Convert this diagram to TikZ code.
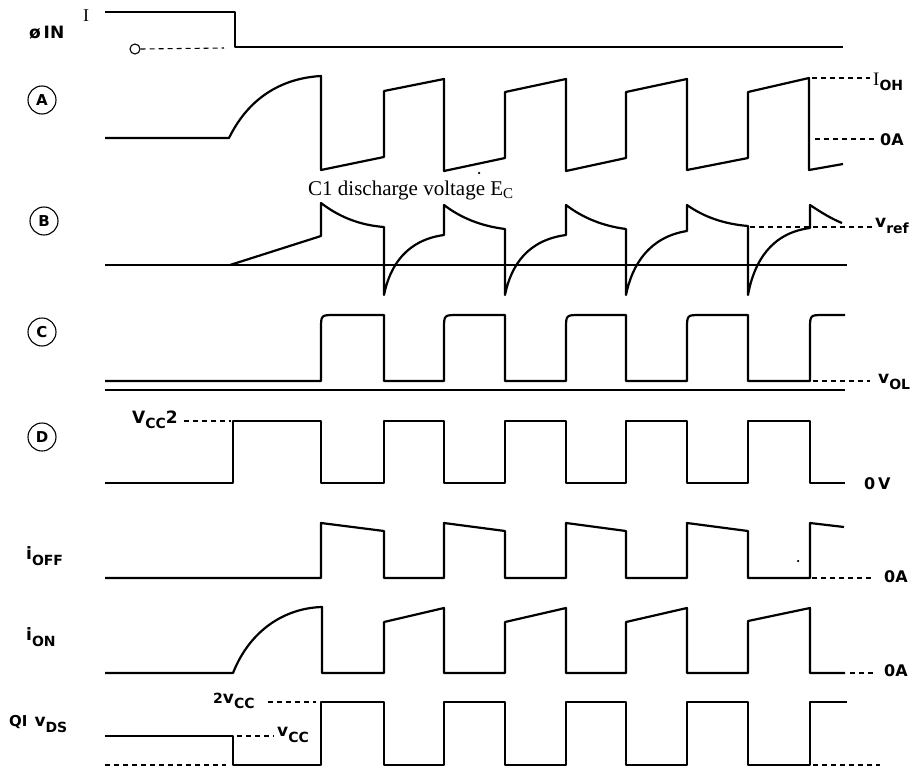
\documentclass[tikz,border=0pt]{standalone}
\usepackage{fontspec}
\setmainfont{Liberation Serif}
\newfontfamily\labfont{DejaVu Sans}
\newcommand{\lowr}[1]{\raisebox{-0.38em}{#1}}
\newcommand{\bigsz}{\fontsize{17}{17}\selectfont}
\newcommand{\subsz}{\fontsize{14}{14}\selectfont}
\begin{document}
\begin{tikzpicture}[x=1pt,y=-1pt,
  wave/.style={line width=2.2pt, line join=round},
  thinbase/.style={line width=1.4pt},
  dsh/.style={line width=1.1pt, dash pattern=on 5pt off 4pt},
  circlab/.style={circle, draw, line width=1.1pt, minimum size=28pt, inner sep=0pt, font=\labfont\bfseries\fontsize{15}{15}\selectfont},
  lbl/.style={font=\labfont\bfseries\fontsize{16}{16}\selectfont, inner sep=0pt},
  biglbl/.style={font=\labfont\bfseries\fontsize{17}{17}\selectfont, inner sep=0pt},
  speck/.style={fill=black, circle, inner sep=0pt, minimum size=2.5pt}]
\useasboundingbox (0,0) rectangle (915,768);

% ---- Phi IN ----
\node[biglbl, anchor=west] (phin) at (29,33) {ø\,IN};
\node[font=\fontsize{18}{18}\selectfont, inner sep=0pt] (ihigh) at (86,16) {I};
\draw[wave] (105,12) -- (235,12) -- (235,47) -- (843,47);
\node[circle, draw, line width=1.1pt, minimum size=10pt, inner sep=0pt] (zc) at (135,49) {};
\coordinate (zend) at (224,48);
\draw[dsh] (zc.east) -- (zend);

% ---- A ----
\node[circlab] (ca) at (42,100) {A};
\draw[wave] (105,138) -- (229,138) .. controls (250,95) and (285,78) .. (321,76)
  -- (321,170) -- (384,157) -- (384,91) -- (444,79) -- (444,171) -- (505,158)
  -- (505,92) -- (566,79) -- (566,171) -- (626,158) -- (626,92) -- (687,79)
  -- (687,170) -- (748,158) -- (748,92) -- (809,78) -- (809,170) -- (843,164);
\coordinate (ioh1) at (812,78); \coordinate (ioh2) at (870,78);
\draw[dsh] (ioh1) -- (ioh2);
\node[anchor=west, inner sep=0pt] (ioh) at (873,82) {\fontsize{19}{19}\selectfont I\labfont\bfseries\subsz\lowr{OH}};
\coordinate (za1) at (815,139); \coordinate (za2) at (877,139);
\draw[dsh] (za1) -- (za2);
\node[lbl, anchor=west] (zaA) at (880,140) {0A};

% ---- C1 text ----
\node[font=\fontsize{21}{21}\selectfont, inner sep=0pt, anchor=base west] (ctext) at (308,195) {C1 discharge voltage E\raisebox{-3pt}{\fontsize{15}{15}\selectfont C}};
\node[speck] (dot1) at (479,173) {};

% ---- B ----
\node[circlab] (cb) at (44,221) {B};
\draw[thinbase] (105,265) -- (847,265);
\draw[wave] (230,265) -- (321,236) -- (321,203)
  .. controls (338,216) and (358,225) .. (384,227) -- (384,295)
  .. controls (390,265) and (407,240) .. (444,235) -- (444,205)
  .. controls (461,218) and (481,226) .. (505,229) -- (505,295)
  .. controls (511,265) and (528,240) .. (566,235) -- (566,205)
  .. controls (583,218) and (603,226) .. (626,229) -- (626,295)
  .. controls (632,265) and (649,237) .. (687,231) -- (687,205)
  .. controls (704,217) and (724,224) .. (748,226) -- (748,295)
  .. controls (754,262) and (771,233) .. (810,228) -- (810,205)
  .. controls (822,213) and (832,219) .. (842,223);
\coordinate (vr1) at (750,227); \coordinate (vr2) at (872,227);
\draw[dsh] (vr1) -- (vr2);
\node[anchor=west, inner sep=0pt] (vref) at (875,226) {\labfont\bfseries\bigsz v\subsz\lowr{ref}};

% ---- C ----
\node[circlab] (cc) at (42,332) {C};
\draw[wave] (105,381) -- (321,381) -- (321,329) .. controls (321,315) .. (335,315)
  -- (384,315) -- (384,381) -- (444,381) -- (444,329) .. controls (444,315) .. (458,315)
  -- (505,315) -- (505,381) -- (566,381) -- (566,329) .. controls (566,315) .. (580,315)
  -- (626,315) -- (626,381) -- (687,381) -- (687,329) .. controls (687,315) .. (701,315)
  -- (748,315) -- (748,381) -- (810,381) -- (810,329) .. controls (810,315) .. (824,315)
  -- (845,315);
\draw[thinbase] (105,390) -- (845,390);
\coordinate (vol1) at (813,381); \coordinate (vol2) at (870,381);
\draw[dsh] (vol1) -- (vol2);
\node[anchor=west, inner sep=0pt] (vol) at (878,382) {\labfont\bfseries\bigsz v\subsz\lowr{OL}};

% ---- D ----
\node[circlab] (cd) at (42,437) {D};
\draw[wave] (105,483) -- (233,483) -- (233,421) -- (321,421) -- (321,483) -- (384,483)
  -- (384,421) -- (444,421) -- (444,483) -- (505,483) -- (505,421) -- (566,421)
  -- (566,483) -- (626,483) -- (626,421) -- (687,421) -- (687,483) -- (748,483)
  -- (748,421) -- (810,421) -- (810,483) -- (845,483);
\coordinate (vc21) at (184,421); \coordinate (vc22) at (231,421);
\draw[dsh] (vc21) -- (vc22);
\node[anchor=west, inner sep=0pt] (vcc2) at (132,420) {\labfont\bfseries\bigsz V\subsz\lowr{CC}\bigsz 2};
\node[lbl, anchor=west] (zv) at (864,484) {0\,V};

% ---- iOFF ----
\node[anchor=west, inner sep=0pt] (ioff) at (26,556) {\labfont\bfseries\bigsz i\subsz\lowr{OFF}};
\draw[wave] (105,578) -- (321,578) -- (321,523) -- (384,531) -- (384,578) -- (444,578)
  -- (444,523) -- (505,531) -- (505,578) -- (566,578) -- (566,523) -- (626,531)
  -- (626,578) -- (687,578) -- (687,523) -- (748,531) -- (748,578) -- (810,578)
  -- (810,523) -- (844,527);
\coordinate (ioa1) at (812,578); \coordinate (ioa2) at (872,578);
\draw[dsh] (ioa1) -- (ioa2);
\node[lbl, anchor=west] (ioffA) at (884,577) {0A};
\node[speck] (dot2) at (798,561) {};

% ---- iON ----
\node[anchor=west, inner sep=0pt] (ion) at (26,637) {\labfont\bfseries\bigsz i\subsz\lowr{ON}};
\draw[wave] (105,673) -- (233,673) .. controls (250,630) and (285,608) .. (322,607)
  -- (322,673) -- (384,673) -- (384,622) -- (444,608) -- (444,673) -- (505,673)
  -- (505,622) -- (566,608) -- (566,673) -- (626,673) -- (626,622) -- (687,608)
  -- (687,673) -- (748,673) -- (748,621) -- (810,608) -- (810,673) -- (845,673);
\coordinate (ina1) at (850,673); \coordinate (ina2) at (876,673);
\draw[dsh] (ina1) -- (ina2);
\node[lbl, anchor=west] (ionA) at (884,671) {0A};

% ---- Q1 VDS ----
\node[anchor=west, inner sep=0pt] (q1) at (9,724) {\labfont\bfseries\fontsize{15}{15}\selectfont QI\hspace{7pt}\bigsz v\subsz\lowr{DS}};
\draw[wave] (105,736) -- (233,736) -- (233,765) -- (321,765) -- (321,702) -- (384,702)
  -- (384,765) -- (444,765) -- (444,702) -- (505,702) -- (505,765) -- (566,765)
  -- (566,702) -- (626,702) -- (626,765) -- (687,765) -- (687,702) -- (748,702)
  -- (748,765) -- (810,765) -- (810,702) -- (847,702);
\coordinate (ql1) at (105,765); \coordinate (ql2) at (226,765);
\draw[dsh] (ql1) -- (ql2);
\coordinate (qr1) at (813,765); \coordinate (qr2) at (880,765);
\draw[dsh] (qr1) -- (qr2);
\coordinate (vcc1) at (237,736); \coordinate (vcc1b) at (274,736);
\draw[dsh] (vcc1) -- (vcc1b);
\node[anchor=west, inner sep=0pt] (vcc) at (277,735) {\labfont\bfseries\bigsz v\subsz\lowr{CC}};
\coordinate (tv1) at (268,702); \coordinate (tv2) at (316,702);
\draw[dsh] (tv1) -- (tv2);
\node[anchor=west, inner sep=0pt] (tvcc) at (213,701) {\labfont\bfseries\fontsize{14}{14}\selectfont 2\bigsz v\subsz\lowr{CC}};
\end{tikzpicture}
\end{document}
